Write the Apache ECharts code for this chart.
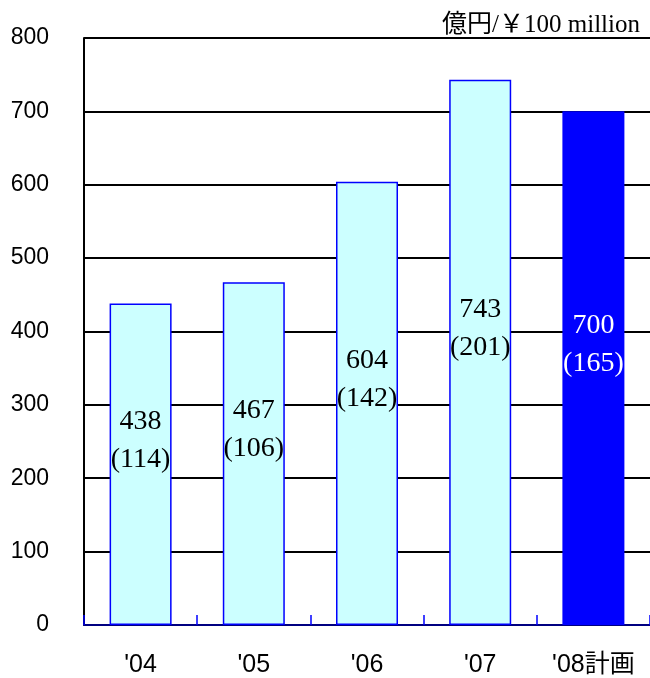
<!DOCTYPE html>
<html>
<head>
<meta charset="utf-8">
<script src="https://cdn.jsdelivr.net/npm/echarts@6/dist/echarts.min.js"></script>
<style>html,body{margin:0;padding:0;background:#fff}#c{width:650px;height:678px}</style>
</head>
<body>
<div id="c"></div>
<script>
const categories = ["'04", "'05", "'06", "'07", "'08計画"];
const totals = [438, 467, 604, 743, 700];
const subValues = [114, 106, 142, 201, 165];
const yTicks = [0, 100, 200, 300, 400, 500, 600, 700, 800];
const unitText = '億円/￥100 million';

const chart = echarts.init(document.getElementById('c'));
const data = totals.map((v, i) => {
  const plan = i === totals.length - 1;
  return {
    value: v,
    itemStyle: { color: plan ? '#0000FF' : '#CCFFFF', borderColor: '#0000FF', borderWidth: plan ? 0 : 1.5 },
    label: { color: plan ? '#FFFFFF' : '#000000' }
  };
});
chart.setOption({
  animation: false,
  title: {
    text: unitText, right: 5, top: 8,
    textStyle: { fontFamily: '"Liberation Serif", "Noto Sans CJK JP", serif', fontSize: 25, fontWeight: 'normal', color: '#000' }
  },
  grid: { left: 84, right: 0, top: 38, bottom: 52 },
  xAxis: {
    type: 'category', data: categories,
    axisLine: { lineStyle: { color: '#000080', width: 2 } },
    axisTick: { show: true, inside: true, length: 10, lineStyle: { color: '#0000FF', width: 1.5 } },
    axisLabel: { margin: 28, fontSize: 25, color: '#000', fontFamily: '"Liberation Sans Narrow", "Liberation Sans", "Noto Sans CJK JP", sans-serif' }
  },
  yAxis: {
    type: 'value', min: yTicks[0], max: yTicks[yTicks.length - 1], interval: 100,
    axisLine: { show: true, lineStyle: { color: '#000', width: 2 } },
    axisTick: { show: false },
    splitLine: { lineStyle: { color: '#000', width: 2 } },
    axisLabel: { margin: 35, fontSize: 23, color: '#000', fontFamily: '"Liberation Sans", Arial, sans-serif' }
  },
  series: [{
    type: 'bar', data: data, barWidth: 62,
    label: {
      show: true, position: 'inside', offset: [0, -24],
      fontFamily: '"Liberation Serif", "Times New Roman", serif', fontSize: 28, lineHeight: 38,
      formatter: p => p.value + '\n(' + subValues[p.dataIndex] + ')'
    }
  }]
});
</script>
</body>
</html>
